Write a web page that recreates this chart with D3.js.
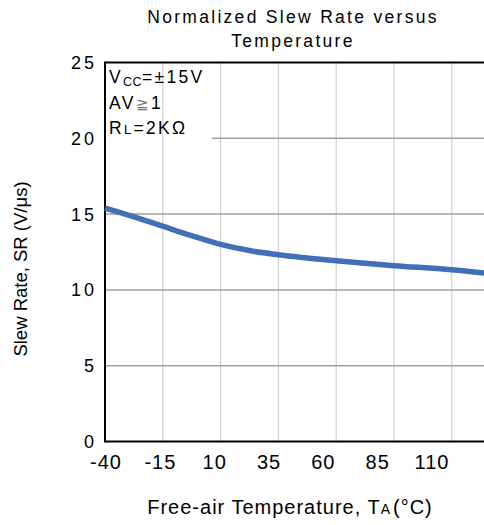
<!DOCTYPE html>
<html lang="en">
<head>
<meta charset="UTF-8">
<title>Normalized Slew Rate versus Temperature</title>
<script src="https://d3js.org/d3.v7.min.js"></script>
<style>
  body { margin: 0; background: #fff; }
  text { font-family: "Liberation Sans", Arial, sans-serif; fill: #000; }
</style>
</head>
<body>
<script>
// data
const temps = [-40, -28, -15, -3, 10, 23, 35, 60, 85, 110, 125];
const slewRate = [15.4, 14.85, 14.2, 13.6, 13.0, 12.58, 12.32, 11.92, 11.6, 11.33, 11.1];
const xTicks = [-40, -15, 10, 35, 60, 85, 110];
const yTicks = [0, 5, 10, 15, 20, 25];

const width = 484, height = 525;
const margin = { left: 105, top: 62.5, bottom: 441.5 };

const svg = d3.select("body").append("svg")
    .attr("width", width)
    .attr("height", height);

const x = d3.scaleLinear().domain([-40, 125]).range([margin.left, margin.left + 165 * 57.8 / 25]);
const y = d3.scaleLinear().domain([0, 25]).range([margin.bottom, margin.top]);
// tick labels in the original sit a little left of the grid lines
const xLabel = d3.scaleLinear().domain([-40, 110]).range([106, 432]);

// grid
svg.append("g").selectAll("line")
    .data(xTicks.slice(1))
    .join("line")
    .attr("x1", d => x(d)).attr("x2", d => x(d))
    .attr("y1", margin.top).attr("y2", margin.bottom)
    .attr("stroke", "#c8c8c8").attr("stroke-width", 1);

svg.append("g").selectAll("line")
    .data(yTicks.slice(1, -1))
    .join("line")
    .attr("x1", d => d === 20 ? 212 : margin.left).attr("x2", width)
    .attr("y1", d => y(d)).attr("y2", d => y(d))
    .attr("stroke", "#a0a0a0").attr("stroke-width", 1.5);

// frame
const frame = svg.append("g").attr("stroke", "#000").attr("stroke-width", 2);
frame.append("line").attr("x1", margin.left).attr("x2", width).attr("y1", margin.top).attr("y2", margin.top);
frame.append("line").attr("x1", margin.left).attr("x2", width).attr("y1", margin.bottom).attr("y2", margin.bottom);
frame.append("line").attr("x1", margin.left).attr("x2", margin.left).attr("y1", margin.top - 1).attr("y2", margin.bottom + 1);

// curve
const line = d3.line().x((d, i) => x(temps[i])).y(d => y(d)).curve(d3.curveMonotoneX);
svg.append("path")
    .datum(slewRate)
    .attr("d", line)
    .attr("fill", "none")
    .attr("stroke", "#4170b8")
    .attr("stroke-width", 5.5)
    .attr("stroke-linecap", "butt");

// tick labels
svg.append("g").selectAll("text")
    .data(yTicks)
    .join("text")
    .attr("x", 97).attr("y", d => y(d) + 6.5)
    .attr("text-anchor", "end")
    .attr("font-size", 18)
    .attr("letter-spacing", 3)
    .text(d => d);

svg.append("g").selectAll("text")
    .data(xTicks)
    .join("text")
    .attr("x", d => xLabel(d)).attr("y", 468.5)
    .attr("text-anchor", "middle")
    .attr("font-size", 20)
    .attr("letter-spacing", 1)
    .text(d => d);

// titles
const title = svg.append("text").attr("text-anchor", "middle").attr("font-size", 17.5).attr("letter-spacing", 2.3);
title.append("tspan").attr("x", 293).attr("y", 22.5).text("Normalized Slew Rate versus");
title.append("tspan").attr("x", 293).attr("y", 46.5).text("Temperature");

const xt = svg.append("text").attr("x", 290).attr("y", 514).attr("text-anchor", "middle")
    .attr("font-size", 20).attr("letter-spacing", 1);
xt.append("tspan").text("Free-air Temperature, T");
xt.append("tspan").attr("font-size", 14).text("A");
xt.append("tspan").attr("dx", 2).text("(°C)");

svg.append("text")
    .attr("transform", "translate(27,269) rotate(-90)")
    .attr("text-anchor", "middle")
    .attr("font-size", 18.5)
    .text("Slew Rate, SR (V/μs)");

// condition notes
const noteStyle = t => t.attr("x", 109).attr("font-size", 17.5).attr("letter-spacing", 2.3);
const n1 = svg.append("text").attr("y", 83).call(noteStyle);
n1.append("tspan").text("V");
n1.append("tspan").attr("font-size", 12.5).attr("dy", 3).attr("letter-spacing", 0.5).text("CC");
n1.append("tspan").attr("dy", -3).text("=±15V");

const n2 = svg.append("text").attr("y", 109).call(noteStyle);
n2.append("tspan").text("AV");
n2.append("tspan").attr("fill", "#777").attr("font-size", 15).text("≧");
n2.append("tspan").text("1");

const n3 = svg.append("text").attr("y", 134).call(noteStyle);
n3.append("tspan").text("R");
n3.append("tspan").attr("font-size", 13).text("L");
n3.append("tspan").text("=2KΩ");
</script>
</body>
</html>
